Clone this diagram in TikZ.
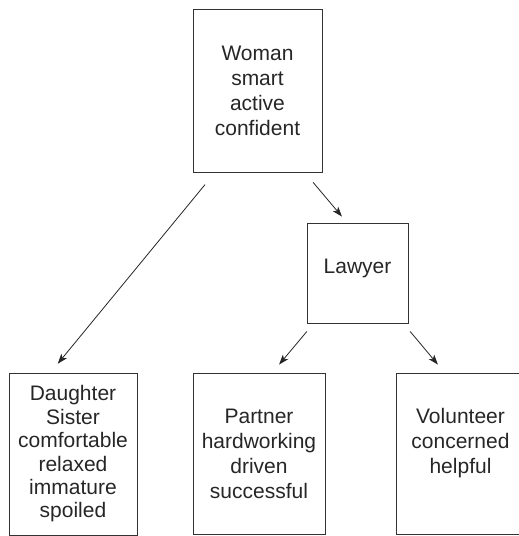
\documentclass[tikz,border=0pt]{standalone}
\usepackage{fontspec}
\setmainfont{Liberation Sans}
\usetikzlibrary{arrows.meta}

\begin{document}
\begin{tikzpicture}[
    x=1pt, y=1pt,
    % boxes and links of the diagram
    box/.style={draw=black!80, line width=0.9pt, text=black!85, align=center,
        inner sep=0pt, font=\fontsize{21}{25}\selectfont},
    link/.style={draw=black!85, line width=0.8pt,
        -{Stealth[length=10pt,width=7pt,inset=2.5pt]}}
]
    % --- Fix the frame of the picture ---
    \useasboundingbox (0,0) rectangle (519,536);

    % --- The boxes ---
    \node[box, minimum width=129pt, minimum height=163pt] (woman) at (257.5,445.5)
        {Woman\\smart\\active\\confident};
    \node[box, minimum width=101pt, minimum height=100pt, text depth=13pt] (lawyer) at (357.5,263)
        {Lawyer};

    \node[box, minimum width=128pt, minimum height=162pt,
        font=\fontsize{21}{23.4}\selectfont] (daughter) at (73,82)
        {Daughter\\Sister\\comfortable\\relaxed\\immature\\spoiled};
    \node[box, minimum width=132pt, minimum height=161pt] (partner) at (259,82.5)
        {Partner\\hardworking\\driven\\successful};
    \node[box, minimum width=129pt, minimum height=161pt] (volunteer) at (460.5,82.5)
        {Volunteer\\concerned\\helpful\\\mbox{}};

    % --- The links between them ---
    \draw[link, shorten <=15.7pt, shorten >=11.4pt]
        ([xshift=-42.5pt]woman.south) -- ([xshift=-22.5pt]daughter.north);
    \draw[link, shorten <=13pt, shorten >=7.8pt]
        ([xshift=47.2pt]woman.south) -- ([xshift=-10.5pt]lawyer.north);
    \draw[link, shorten <=10.4pt, shorten >=10.4pt]
        ([xshift=-43.9pt]lawyer.south) -- ([xshift=13.4pt]partner.north);
    \draw[link, shorten <=10.4pt, shorten >=10.4pt]
        ([xshift=45.9pt]lawyer.south) -- ([xshift=-15.9pt]volunteer.north);
\end{tikzpicture}
\end{document}
